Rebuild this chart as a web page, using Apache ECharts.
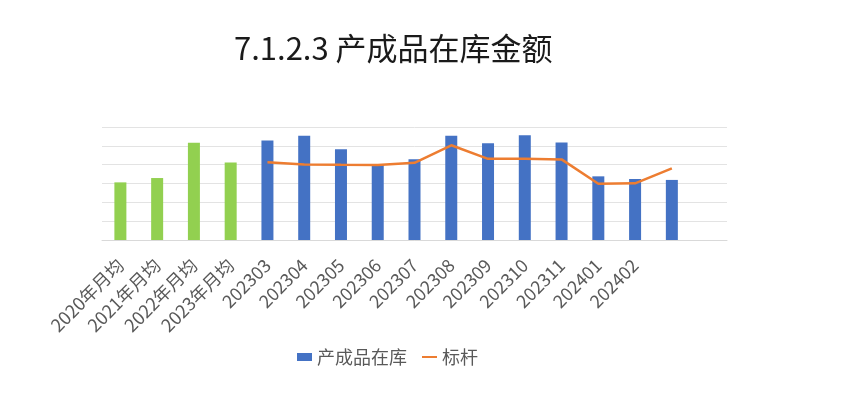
<!DOCTYPE html>
<html><head><meta charset="utf-8">
<script src="https://cdn.jsdelivr.net/npm/echarts@6/dist/echarts.min.js"></script>
<style>html,body{margin:0;padding:0;background:#fff}#c{width:847px;height:396px}</style>
</head><body><div id="c"></div>
<script>
const categories = ['2020年月均','2021年月均','2022年月均','2023年月均','202303','202304','202305','202306','202307','202308','202309','202310','202311','202401','202402',' ','  '];
const inventory = [3.06,3.29,5.16,4.12,5.28,5.53,4.82,3.98,4.29,5.53,5.14,5.56,5.18,3.38,3.24,3.19,null];
const benchmark = [null,null,null,null,4.13,4.01,3.99,3.98,4.10,5.03,4.31,4.31,4.28,2.99,3.01,3.80,null];
const averageCount = 4;

const FONT = '"Noto Sans CJK SC","Noto Sans",sans-serif';
const chart = echarts.init(document.getElementById('c'), null, {renderer:'canvas'});
chart.setOption({
  animation:false,
  title:{text:'7.1.2.3 产成品在库金额', left:229, top:28,
    textStyle:{fontFamily:FONT, fontSize:31, fontWeight:'normal', color:'#1a1a1a'}},
  grid:{left:102, right:120, top:127, bottom:156, containLabel:false},
  legend:{top:343, left:292, itemGap:14,
    textStyle:{fontFamily:FONT, fontSize:18, color:'#595959'},
    data:[{name:'产成品在库', icon:'rect'}, {name:'标杆', itemStyle:{opacity:0}}],
    itemWidth:15, itemHeight:8},
  xAxis:{type:'category', data:categories,
    axisLine:{show:true, lineStyle:{color:'#d9d9d9', width:1}},
    axisTick:{show:false},
    axisLabel:{rotate:45, interval:0, fontFamily:FONT, fontSize:18, color:'#595959', margin:22}},
  yAxis:{type:'value', min:0, max:6, interval:1,
    axisLabel:{show:false}, axisLine:{show:false}, axisTick:{show:false},
    splitLine:{lineStyle:{color:'#e3e3e3', width:1}}},
  series:[
    {name:'产成品在库', type:'bar', barWidth:12,
     itemStyle:{color:'#4472C4'},
     data: inventory.map((v,i)=> i < averageCount ? {value:v, itemStyle:{color:'#92D050'}} : v)},
    {name:'标杆', type:'line', data:benchmark, symbol:'none', connectNulls:false,
     lineStyle:{color:'#ED7D31', width:2.5}, itemStyle:{color:'#ED7D31'}}
  ]
});
</script></body></html>
